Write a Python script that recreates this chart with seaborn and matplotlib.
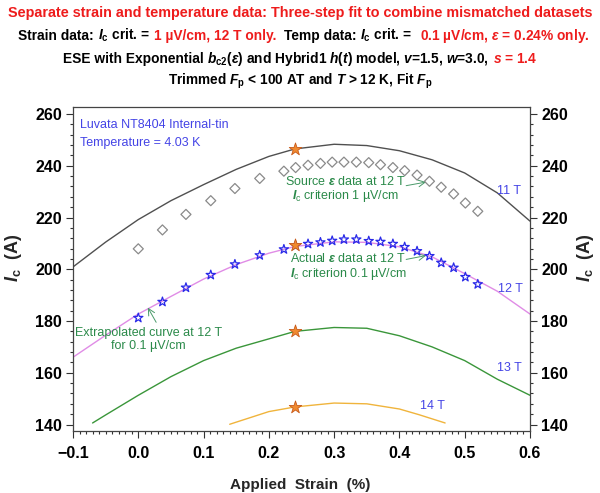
import numpy as np
import pandas as pd
import matplotlib
matplotlib.use("Agg")
import matplotlib.pyplot as plt
import seaborn as sns
from matplotlib import font_manager as fm
from matplotlib.ticker import MultipleLocator

# ---------------- data ----------------
# fitted curves (strain %, Ic A)
strain_11T = [-0.10, -0.05, 0.00, 0.05, 0.10, 0.15, 0.20, 0.24, 0.30, 0.35, 0.40, 0.45, 0.50, 0.55, 0.60]
ic_11T = [200.9, 210.5, 219.2, 226.5, 232.7, 238.6, 243.6, 246.5, 248.3, 247.8, 245.8, 242.3, 237.2, 229.5, 218.6]

strain_12T = [-0.10, -0.05, 0.00, 0.05, 0.10, 0.15, 0.20, 0.24, 0.30, 0.35, 0.40, 0.45, 0.50, 0.55, 0.60]
ic_12T = [166.0, 174.5, 182.7, 189.5, 196.2, 201.8, 206.2, 208.8, 210.6, 210.4, 208.7, 204.8, 198.3, 191.5, 182.7]

strain_13T = [-0.07, -0.05, 0.00, 0.05, 0.10, 0.15, 0.20, 0.24, 0.30, 0.35, 0.40, 0.45, 0.50, 0.55, 0.60]
ic_13T = [140.6, 143.7, 151.3, 158.5, 164.7, 169.5, 173.1, 176.0, 177.5, 177.2, 174.3, 170.0, 164.7, 157.5, 151.3]

strain_14T = [0.14, 0.20, 0.24, 0.30, 0.35, 0.40, 0.43, 0.47]
ic_14T = [140.1, 145.0, 146.8, 148.3, 148.0, 146.0, 143.8, 140.6]

# measured strain data at 12 T
strain_data = [0.000, 0.037, 0.073, 0.111, 0.148, 0.186, 0.223, 0.241, 0.260, 0.279, 0.297, 0.315,
               0.334, 0.353, 0.371, 0.390, 0.408, 0.427, 0.446, 0.464, 0.483, 0.501, 0.520]
ic_source_1uV = [207.9, 215.2, 221.2, 226.5, 231.2, 235.1, 237.9, 239.3, 240.2, 240.9, 241.4, 241.4,
                 241.4, 241.2, 240.4, 239.3, 238.1, 236.4, 234.0, 231.7, 229.1, 225.6, 222.4]
ic_actual_01uV = [181.2, 187.4, 192.9, 197.8, 201.9, 205.4, 207.7, 209.1, 209.8, 210.4, 211.0, 211.5,
                  211.5, 210.9, 210.6, 209.8, 208.6, 207.0, 205.1, 202.5, 200.6, 197.0, 194.2]

# temperature data at strain 0.24 %
temp_strain = [0.24, 0.24, 0.24, 0.24]
temp_ic = [246.5, 209.2, 176.0, 146.8]

field_labels = ["11 T", "12 T", "13 T", "14 T"]

# ---------------- style ----------------
sns.set_theme(style="ticks")
names = {f.name for f in fm.fontManager.ttflist}
NARROW = "Liberation Sans Narrow" if "Liberation Sans Narrow" in names else "Liberation Sans"
plt.rcParams["font.family"] = ["Liberation Sans", "DejaVu Sans"]
plt.rcParams["font.weight"] = "bold"
plt.rcParams["mathtext.fontset"] = "custom"
plt.rcParams["mathtext.rm"] = NARROW + ":bold"
plt.rcParams["mathtext.it"] = "Liberation Sans:italic"
plt.rcParams["mathtext.bf"] = NARROW + ":bold"
plt.rcParams["mathtext.bfit"] = NARROW + ":italic:bold"
plt.rcParams["axes.unicode_minus"] = True

W, H = 600, 493
fig = plt.figure(figsize=(W / 100, H / 100), dpi=100)
fig.patch.set_facecolor("white")
L, R, T, B = 73, 530, 107, 431
ax = fig.add_axes([L / W, 1 - B / H, (R - L) / W, (B - T) / H])
ax.set_facecolor("white")

GRAY = "#505050"
VIOLET = "#e08ce6"
GREEN = "#3a963a"
GOLD = "#f0b43c"
BLUE = "#4444e6"
ANN = "#2b8a4a"
RED = "#ee1c1c"

curves = [(strain_11T, ic_11T, GRAY), (strain_12T, ic_12T, VIOLET),
          (strain_13T, ic_13T, GREEN), (strain_14T, ic_14T, GOLD)]
for xs, ys, c in curves:
    sns.lineplot(x=xs, y=ys, ax=ax, color=c, lw=1.0, sort=False, estimator=None)

sns.scatterplot(x=strain_data, y=ic_source_1uV, ax=ax, marker="D", s=26,
                facecolors="none", edgecolors="#8a8a8a", linewidth=0.9, zorder=4)
sns.scatterplot(x=strain_data, y=ic_actual_01uV, ax=ax, marker="*", s=48,
                facecolors="none", edgecolors="#2a2ae8", linewidth=0.9, zorder=4)
sns.scatterplot(x=temp_strain, y=temp_ic, ax=ax, marker="*", s=90,
                facecolors="#f08a30", edgecolors="#c85a1a", linewidth=0.6, zorder=5)

ax.set_xlim(-0.1, 0.6)
ax.set_ylim(137.5, 262.7)
ax.xaxis.set_major_locator(MultipleLocator(0.1))
ax.xaxis.set_minor_locator(MultipleLocator(0.01))
ax.yaxis.set_major_locator(MultipleLocator(20))
ax.yaxis.set_minor_locator(MultipleLocator(4))
ax.tick_params(which="both", direction="out", color="#333333", width=0.8,
               labelsize=11.5, labelcolor="black", left=True, right=True, bottom=True, top=False,
               labelleft=True, labelright=True)
ax.tick_params(which="major", length=5)
ax.tick_params(which="minor", length=2.5)
ax.tick_params(axis="y", pad=3)
ax.tick_params(axis="x", pad=6)
for s in ax.spines.values():
    s.set_visible(True)
    s.set_color("#444444")
    s.set_linewidth(0.9)
ax.set_xlabel("")
ax.set_ylabel("")

# field labels
for lab, (lx, ly) in zip(field_labels, [(0.568, 230.4), (0.5695, 192.5), (0.568, 161.9), (0.45, 147.2)]):
    ax.text(lx, ly, lab, color=BLUE, fontsize=9, fontweight="normal", ha="center", va="center")

ax.text(-0.089, 255.8, "Luvata NT8404 Internal-tin", color=BLUE, fontsize=9,
        fontweight="normal", ha="left", va="center")
ax.text(-0.089, 248.7, "Temperature = 4.03 K", color=BLUE, fontsize=9,
        fontweight="normal", ha="left", va="center")

# annotations
ax.text(0.3173, 230.8, "Source $ε$ data at 12 T\n$I_\\mathdefault{c}$ criterion 1 µV/cm", color=ANN,
        fontsize=9, fontweight="normal", ha="center", va="center", multialignment="center",
        linespacing=1.05)
ax.text(0.3218, 200.9, "Actual $ε$ data at 12 T\n$I_\\mathdefault{c}$ criterion 0.1 µV/cm", color=ANN,
        fontsize=9, fontweight="normal", ha="center", va="center", multialignment="center",
        linespacing=1.05)
ax.text(0.0152, 172.9, "Extrapolated curve at 12 T\nfor 0.1 µV/cm", color=ANN,
        fontsize=9, fontweight="normal", ha="center", va="center", multialignment="center",
        linespacing=1.05)
arrow = dict(arrowstyle="->", color="#4a9a6a", lw=0.7, shrinkA=0, shrinkB=0)
ax.annotate("", xy=(0.4409, 233.7), xytext=(0.4103, 232.3), arrowprops=arrow)
ax.annotate("", xy=(0.4409, 205.3), xytext=(0.4103, 203.8), arrowprops=arrow)
ax.annotate("", xy=(0.0146, 185.2), xytext=(0.0274, 179.5), arrowprops=arrow)

# axis labels
fig.text(300 / W, 1 - 485 / H, "Applied  Strain  (%)", fontsize=11, fontweight="bold",
         ha="center", va="center")
ylab = r"$\mathbfit{I}_\mathdefault{c}$  (A)"
fig.text(14 / W, 1 - 258 / H, ylab, fontsize=13, fontweight="bold", rotation=90,
         ha="center", va="center")
fig.text(585 / W, 1 - 258 / H, ylab, fontsize=13, fontweight="bold", rotation=90,
         ha="center", va="center")

# ---------------- rich title lines ----------------
renderer = fig.canvas.get_renderer()


def measure(s, size):
    t = fig.text(0, 0, s, fontsize=size, fontweight="bold", family=NARROW)
    w = t.get_window_extent(renderer).width
    t.remove()
    return w


def layout(segs, size):
    sp = measure("n n", size) - measure("nn", size)
    offs = []
    x = 0.0
    for s, c in segs:
        lead = len(s) - len(s.lstrip(" "))
        trail = len(s) - len(s.rstrip(" "))
        x += lead * sp
        offs.append(x)
        x += measure(s.strip(" "), size) + trail * sp
    return offs, x


def rich_line(segs, ybase, target_w, xcenter=300, size=11):
    offs, total = layout(segs, size)
    size = size * target_w / total
    offs, total = layout(segs, size)
    x0 = xcenter - total / 2
    for (s, c), xo in zip(segs, offs):
        fig.text((x0 + xo) / W, 1 - ybase / H, s.strip(" "), color=c, fontsize=size,
                 fontweight="bold", family=NARROW, ha="left", va="baseline")


K = "black"
rich_line([("Separate strain and temperature data: Three-step fit to combine mismatched datasets", RED)],
          17, 584, 300)
rich_line([("Strain data: ", K), (r"$\mathbfit{I}_\mathdefault{c}$ crit. = ", K),
           ("1 µV/cm, 12 T only.", RED), ("  Temp data: ", K),
           (r"$\mathbfit{I}_\mathdefault{c}$ crit. =  ", K),
           (r"0.1 µV/cm, $\mathbfit{ε}$ = 0.24% only.", RED)], 40, 572, 304)
rich_line([("ESE with Exponential ", K),
           (r"$\mathbfit{b}_\mathdefault{c2}(\mathbfit{ε})$ and Hybrid1 $\mathbfit{h}(\mathbfit{t})$ model, $\mathbfit{v}$=1.5, $\mathbfit{w}$=3.0, ", K),
           (r"$\mathbfit{s}$ = 1.4", RED)], 63, 476, 300)
rich_line([(r"Trimmed $\mathbfit{F}_\mathdefault{p}$ < 100 AT and $\mathbfit{T}$ > 12 K, Fit $\mathbfit{F}_\mathdefault{p}$", K)],
          85, 265, 300)

fig.savefig("out.png", dpi=100)
